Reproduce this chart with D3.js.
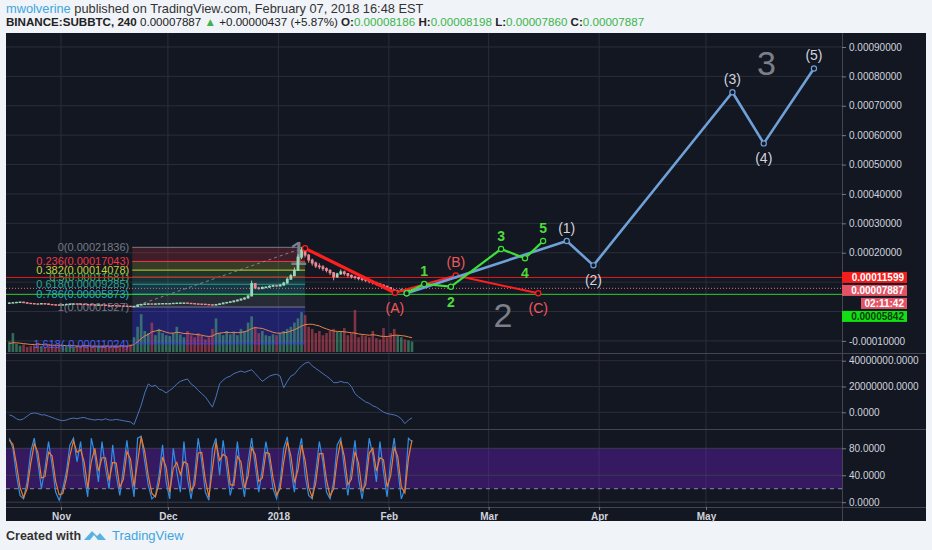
<!DOCTYPE html>
<html>
<head>
<meta charset="utf-8">
<script src="https://cdn.jsdelivr.net/npm/d3@7"></script>
<style>
body { margin: 0; background: #f0f3f8; }
svg { display: block; }
text { font-family: "Liberation Sans", Arial, sans-serif; }
</style>
</head>
<body>
<div id="chart"></div>
<script>
// Daily bars starting 2017-10-17, prices in units of 0.00001 BTC
var firstDay = "2017-10-17";

var closes = [
    2.9, 3.0, 3.1, 3.2, 3.0, 2.8, 2.7, 2.6, 2.55, 2.7, 2.6, 2.4, 2.3, 2.25, 2.2,
    2.3, 2.4, 2.5, 2.6, 2.55, 2.5, 2.4, 2.35, 2.3, 2.2, 2.25, 2.2, 2.1, 2.05, 2.0,
    1.95, 1.9, 1.85, 1.8, 1.7, 1.75, 2.2, 2.4, 2.55, 2.6, 2.5, 2.6, 2.65, 2.7, 2.7,
    2.7, 2.8, 2.85, 2.9, 2.9, 2.8, 2.7, 2.6, 2.55, 2.5, 2.4, 2.3, 2.2, 2.4, 2.6,
    2.9, 3.1, 3.3, 3.6, 3.9, 4.25, 4.6, 5.3, 9.5, 8.0, 7.8, 8.2, 8.3, 8.6, 8.8, 8.7,
    9.0, 9.7, 11.0, 12.2, 14.0, 18.5, 21.0, 19.2, 17.5, 16.5, 15.5, 15.2, 14.6, 14.0,
    13.2, 11.8, 12.8, 13.5, 12.9, 12.3, 11.8, 11.6, 11.2, 10.9, 10.6, 10.2, 9.8, 9.4,
    9.0, 8.6, 8.1,
    7.4, 6.6, 6.9, 7.3, 7.0, 7.5, 7.887
];
var highs = [
    3.1, 3.2, 3.3, 3.4, 3.3, 3.1, 2.9, 2.8, 2.7, 2.9, 2.8, 2.7, 2.5, 2.4, 2.4,
    2.4, 2.5, 2.6, 2.7, 2.7, 2.6, 2.55, 2.45, 2.4, 2.35, 2.35, 2.3, 2.25, 2.15, 2.1,
    2.05, 2.0, 1.95, 1.9, 1.85, 1.9, 2.4, 2.6, 2.7, 2.75, 2.7, 2.7, 2.8, 2.8, 2.85,
    2.8, 2.9, 3.0, 3.0, 3.0, 2.95, 2.8, 2.7, 2.65, 2.6, 2.5, 2.4, 2.35, 2.5, 2.7,
    3.0, 3.2, 3.4, 3.7, 4.0, 4.4, 4.8, 5.6, 10.5, 9.6, 8.4, 8.5, 8.6, 8.9, 9.1, 9.0,
    9.4, 10.1, 11.6, 12.8, 15.0, 19.5, 21.836, 21.2, 19.5, 18.0, 17.0, 16.4, 15.8, 15.0,
    14.4, 13.4, 13.2, 14.3, 13.9, 13.1, 12.6, 12.2, 11.9, 11.5, 11.2, 10.9, 10.5, 10.1,
    9.6, 9.2, 8.8,
    8.2, 7.6, 7.4, 7.8, 7.6, 7.9, 8.198
];
var lows = [
    2.7, 2.8, 2.9, 3.0, 2.9, 2.7, 2.6, 2.5, 2.4, 2.5, 2.4, 2.3, 2.2, 2.1, 2.1,
    2.15, 2.25, 2.35, 2.45, 2.45, 2.4, 2.3, 2.25, 2.2, 2.1, 2.1, 2.1, 2.0, 1.95, 1.9,
    1.85, 1.8, 1.75, 1.7, 1.6, 1.65, 1.7, 2.15, 2.35, 2.45, 2.4, 2.45, 2.5, 2.55, 2.6,
    2.6, 2.65, 2.75, 2.8, 2.8, 2.75, 2.65, 2.55, 2.45, 2.4, 2.3, 2.2, 2.1, 2.15, 2.35,
    2.55, 2.8, 3.0, 3.2, 3.5, 3.8, 4.1, 4.5, 5.2, 7.6, 7.4, 7.6, 7.9, 8.1, 8.4, 8.4,
    8.5, 8.8, 9.5, 10.8, 12.0, 13.8, 17.8, 18.4, 16.6, 15.6, 14.8, 14.4, 13.8, 13.3,
    12.4, 10.6, 11.4, 12.5, 12.2, 11.6, 11.2, 10.9, 10.6, 10.3, 10.0, 9.6, 9.2, 8.8,
    8.4, 8.0, 7.6,
    7.0, 6.0, 6.4, 6.8, 6.6, 6.8, 7.86
];

// volume, relative units 0-100
var volumes = [
    25, 45, 20, 15, 18, 12, 14, 16, 22, 14, 12, 18, 15, 13, 14,
    16, 14, 18, 12, 15, 13, 17, 14, 12, 15, 13, 14, 16, 12, 14,
    15, 13, 12, 14, 18, 35, 60, 90, 50, 45, 70, 40, 55, 45, 40,
    38, 45, 60, 42, 35, 50, 40, 35, 45, 38, 30, 35, 55, 80, 45,
    40, 50, 42, 48, 40, 55, 50, 70, 85, 60, 45, 50, 40, 38, 42, 40,
    45, 50, 55, 60, 70, 80, 95, 88, 60, 55, 45, 50, 40, 45,
    50, 55, 48, 50, 57, 40, 45, 100, 35, 40, 38, 35, 50, 33,
    30, 57, 35,
    45, 55, 40, 35, 30, 28, 25
];
var volumeMA = [
    20, 22, 22, 21, 20, 19, 18, 18, 19, 18, 17, 17, 16, 16, 16,
    16, 15, 15, 15, 14, 14, 15, 15, 14, 14, 14, 14, 14, 14, 14,
    14, 14, 14, 14, 15, 18, 24, 32, 38, 42, 48, 50, 52, 50, 47,
    45, 45, 47, 46, 44, 44, 43, 42, 41, 40, 38, 37, 38, 43, 45,
    46, 47, 46, 47, 46, 47, 48, 51, 56, 58, 57, 56, 53, 50, 47, 45,
    45, 46, 47, 50, 53, 57, 62, 65, 66, 66, 64, 62, 58, 55,
    52, 50, 49, 49, 48, 47, 46, 45, 43, 42, 41, 40, 41, 40,
    38, 37, 37,
    38, 40, 40, 39, 38, 36, 34
];

// on-balance volume, millions
var obv = [
    -2, -3, -5, -6, -5, -3, -1, -0.5, -1, -2, -2, -3, -4, -5, -6,
    -6.5, -6, -5, -4.5, -5, -4.3, -4, -5, -5.5, -6, -5.5, -6, -5, -6, -6,
    -5.5, -6, -6.5, -7, -7.5, -9.5, -2, 5.5, 15, 22, 20, 21, 18, 17, 15,
    17, 19, 22, 24, 25, 25.8, 22, 20, 17, 14.5, 12, 8, 4, 12, 22,
    25, 27, 28, 30, 31, 32, 31, 32, 33, 30, 27, 24, 26, 28, 29, 29.5,
    28, 19, 24, 28, 29.5, 33, 36, 38, 39, 36, 34, 32, 30, 28,
    26, 23, 23, 24, 23, 23, 20, 14.5, 12, 10, 8, 7, 5, 4,
    2, 0.2, -1,
    -1.5, -2, -3, -5, -8.8, -6, -4.3
];

// stochastic RSI
var stochK = [
    95, 80, 40, 10, 5, 30, 75, 95, 60, 20,
    50, 90, 55, 15, 3, 20, 45, 85, 95, 60,
    90, 40, 8, 95, 70, 30, 90, 50, 20, 85,
    40, 10, 50, 92, 45, 8, 95, 98, 60, 25,
    5, 10, 40, 85, 30, 5, 80, 45, 15, 90,
    35, 5, 40, 95, 60, 15, 3, 80, 95, 40,
    92, 50, 10, 35, 90, 40, 8, 60, 95, 55,
    15, 50, 90, 60, 20, 5, 30, 80, 97, 50,
    15, 70, 95, 40, 10, 5, 45, 90, 60, 15,
    5, 30, 85, 95, 50, 10, 50, 92, 35, 5,
    40, 95, 70, 30, 90, 45, 8, 60, 95, 50,
    5, 20, 95, 90
];
var stochD = [
    92, 86, 56, 22, 7, 20, 57, 87, 74, 36,
    38, 74, 69, 31, 11, 13, 35, 69, 91, 74,
    78, 60, 21, 60, 80, 46, 66, 66, 32, 59,
    58, 22, 34, 75, 64, 23, 60, 97, 75, 39,
    13, 8, 28, 67, 52, 15, 50, 59, 41, 60,
    57, 17, 26, 73, 74, 33, 8, 49, 89, 62,
    71, 67, 26, 25, 68, 60, 21, 39, 81, 71,
    31, 36, 74, 72, 36, 11, 20, 60, 90, 69,
    29, 48, 85, 62, 22, 7, 29, 72, 72, 33,
    9, 20, 63, 91, 68, 26, 34, 75, 58, 17,
    26, 73, 80, 46, 66, 63, 23, 39, 81, 68,
    23, 14, 65, 92
];

var monthTicks = ["2017-11-01T00:00", "2017-12-01T00:00", "2018-01-01T00:00", "2018-02-01T00:00",
    "2018-03-01T00:00", "2018-04-01T00:00", "2018-05-01T00:00"];
var monthLabels = ["Nov", "Dec", "2018", "Feb", "Mar", "Apr", "May"];

// price axis labels that are not covered by the price tags
var priceLabelTicks = [20, 30, 40, 50, 60, 70, 80, 90, -10];

// fibonacci retracement
var fibRatios = ["0", "0.236", "0.382", "0.5", "0.618", "0.786", "1", "1.618"];
var fibPrices = [21.836, 17.043, 14.078, 11.681, 9.285, 5.873, 1.527, -11.024];
var fibStart = "2017-11-21T00:00";
var fibEnd = "2018-01-08T12:00";

// elliott wave drawings
var redDates = ["2018-01-08T12:00", "2018-02-02T17:00", "2018-02-19T19:00", "2018-03-14T22:00"];
var redPrices = [21.5, 6.4, 12.25, 6.2];
var redLabels = ["", "(A)", "(B)", "(C)"];

var greenDates = ["2018-02-06T00:00", "2018-02-10T22:00", "2018-02-18T10:00", "2018-03-04T12:00",
    "2018-03-11T05:00", "2018-03-16T07:00"];
var greenPrices = [6.2, 9.36, 8.44, 21.27, 18.1, 24.0];
var greenLabels = ["", "1", "2", "3", "4", "5"];

var blueDates = ["2018-02-06T00:00", "2018-03-22T22:00", "2018-03-30T10:00", "2018-05-08T10:00",
    "2018-05-17T05:00", "2018-05-31T07:00"];
var bluePrices = [6.2, 24.0, 15.7, 74.6, 57.2, 82.7];
var blueLabels = ["", "(1)", "(2)", "(3)", "(4)", "(5)"];

var degreeDates = ["2018-01-06T14:00", "2018-03-05T00:00", "2018-05-18T00:00"];
var degreePrices = [15.8, -5.3, 80.5];
var degreeLabels = ["1", "2", "3"];

// horizontal lines and price tags
var resistance = 11.599;
var lastPrice = 7.887;
var support = 5.842;
var countdown = "02:11:42";

// ---------- layout ----------
var svgWidth = 932, svgHeight = 550;
var plotL = 6, plotR = 842, frameR = 926, frameT = 33, frameB = 521;
var mainTop = 33, mainBot = 353, obvTop = 354, obvBot = 429, stTop = 430, stBot = 507;
var gridColor = "#2a2e39";
var axisText = "#d1d4dc";

var parseTime = d3.utcParse("%Y-%m-%dT%H:%M");
var start = parseTime(firstDay + "T00:00");
var barTimes = closes.map((c, i) => d3.utcHour.offset(d3.utcDay.offset(start, i), 12));

var x = d3.scaleUtc()
    .domain([parseTime("2017-11-01T00:00"), parseTime("2018-05-01T00:00")])
    .range([61, 706]);
var y = d3.scaleLinear().domain([-10, 90]).range([340.9, 47]);
var yVol = d3.scaleLinear().domain([0, 100]).range([352, 310]);
var yObv = d3.scaleLinear().domain([0, 40]).range([412.3, 360.7]);
var ySt = d3.scaleLinear().domain([0, 80]).range([502.2, 448.3]);

var svg = d3.select("#chart").append("svg")
    .attr("width", svgWidth)
    .attr("height", svgHeight);

svg.append("rect").attr("width", svgWidth).attr("height", svgHeight).attr("fill", "#f0f3f8");

// header
var head1 = svg.append("text").attr("x", 6).attr("y", 13).attr("font-size", 12.8)
    .attr("font-family", "'Open Sans', sans-serif").attr("fill", "#333");
head1.append("tspan").attr("fill", "#3ea6df").text("mwolverine");
head1.append("tspan").text(" published on TradingView.com, February 07, 2018 16:48 EST");

var green = "#3bb54a";
var head2 = svg.append("text").attr("x", 6).attr("y", 26).attr("font-size", 11.6)
    .attr("font-family", "'Open Sans', sans-serif").attr("fill", "#222");
head2.append("tspan").attr("font-weight", "bold").text("BINANCE:SUBBTC, 240 ");
head2.append("tspan").text("0.00007887 ");
head2.append("tspan").attr("fill", green).text("\u25B2");
head2.append("tspan").text(" +0.00000437 (+5.87%) ");
[["O:", "0.00008186"], ["H:", "0.00008198"], ["L:", "0.00007860"], ["C:", "0.00007887"]]
    .forEach(function(p, i) {
        head2.append("tspan").attr("font-weight", "bold").text((i ? " " : "") + p[0]);
        head2.append("tspan").attr("fill", green).text(p[1]);
    });

// chart frame
svg.append("rect").attr("x", plotL).attr("y", frameT)
    .attr("width", frameR - plotL).attr("height", frameB - frameT)
    .attr("fill", "#131722");

var defs = svg.append("defs");
function clip(id, top, bot) {
    defs.append("clipPath").attr("id", id).append("rect")
        .attr("x", plotL).attr("y", top).attr("width", plotR - plotL).attr("height", bot - top);
    return svg.append("g").attr("clip-path", "url(#" + id + ")");
}

// vertical grid
var monthDates = monthTicks.map(parseTime);
svg.append("g").selectAll("line").data(monthDates).enter().append("line")
    .attr("x1", d => x(d)).attr("x2", d => x(d))
    .attr("y1", frameT).attr("y2", stBot)
    .attr("stroke", gridColor);

var mainG = clip("clipMain", mainTop, mainBot);
var obvG = clip("clipObv", obvTop, obvBot);
var stG = clip("clipSt", stTop, stBot);

// horizontal grid, main pane
var priceTicks = d3.range(-10, 91, 10);
mainG.selectAll(".hg").data(priceTicks).enter().append("line")
    .attr("x1", plotL).attr("x2", plotR)
    .attr("y1", d => y(d)).attr("y2", d => y(d))
    .attr("stroke", gridColor);

// fib zones
var fibColors = ["#787b86", "#f23645", "#c6d13a", "#4caf50", "#26a69a", "#1fb3c9", "#787b86", "#3a3aff"];
var fx0 = x(parseTime(fibStart)), fx1 = x(parseTime(fibEnd));
fibPrices.slice(0, -1).forEach(function(p, i) {
    var a = y(p), b = y(fibPrices[i + 1]);
    mainG.append("rect").attr("x", fx0).attr("width", fx1 - fx0)
        .attr("y", a).attr("height", b - a)
        .attr("fill", fibColors[i + 1]).attr("opacity", i === 6 ? 0.32 : 0.2);
});

// volume
mainG.selectAll(".vol").data(volumes).enter().append("rect")
    .attr("x", (d, i) => x(barTimes[i]) - 1.3)
    .attr("width", 2.6)
    .attr("y", d => yVol(d))
    .attr("height", d => 352 - yVol(d))
    .attr("fill", (d, i) => closes[i] >= (i ? closes[i - 1] : closes[0]) ? "#4aa37a" : "#c9465a")
    .attr("opacity", 0.6);
mainG.append("path").datum(volumeMA)
    .attr("fill", "none").attr("stroke", "#e8834a").attr("stroke-width", 1)
    .attr("d", d3.line().x((d, i) => x(barTimes[i])).y(d => yVol(d)));

// fib lines and labels
fibPrices.forEach(function(p, i) {
    mainG.append("line").attr("x1", fx0).attr("x2", fx1)
        .attr("y1", y(p)).attr("y2", y(p))
        .attr("stroke", fibColors[i]).attr("stroke-width", 1);
    mainG.append("text").attr("x", fx0 - 3).attr("y", y(p))
        .attr("dy", "0.35em").attr("text-anchor", "end")
        .attr("font-size", 11).attr("fill", fibColors[i] === "#3a3aff" ? "#4a5cff" : fibColors[i])
        .text(fibRatios[i] + "(" + (p * 1e-5).toFixed(8) + ")");
});
mainG.append("line")
    .attr("x1", fx0).attr("y1", y(fibPrices[6]))
    .attr("x2", fx1).attr("y2", y(fibPrices[0]))
    .attr("stroke", "#9598a1").attr("stroke-dasharray", "3,3").attr("opacity", 0.8);

// horizontal price lines
mainG.append("line").attr("x1", plotL).attr("x2", plotR)
    .attr("y1", y(resistance)).attr("y2", y(resistance)).attr("stroke", "#e01e1e");
mainG.append("line").attr("x1", plotL).attr("x2", plotR)
    .attr("y1", y(support)).attr("y2", y(support)).attr("stroke", "#33cc33");
mainG.append("line").attr("x1", plotL).attr("x2", plotR)
    .attr("y1", y(lastPrice)).attr("y2", y(lastPrice))
    .attr("stroke", "#e8687a").attr("stroke-dasharray", "1,2");

// big degree numbers
mainG.selectAll(".deg").data(degreeLabels).enter().append("text")
    .attr("x", (d, i) => x(parseTime(degreeDates[i])))
    .attr("y", (d, i) => y(degreePrices[i]))
    .attr("text-anchor", "middle").attr("font-size", 34)
    .attr("fill", "#7b7f8a")
    .text(d => d);

// candles
var upColor = "#9ad9b8", downColor = "#ef8a95";
var candle = mainG.selectAll(".candle").data(closes).enter().append("g");
candle.append("line")
    .attr("x1", (d, i) => x(barTimes[i])).attr("x2", (d, i) => x(barTimes[i]))
    .attr("y1", (d, i) => y(highs[i])).attr("y2", (d, i) => y(lows[i]))
    .attr("stroke", (d, i) => d >= (i ? closes[i - 1] : d) ? upColor : downColor);
candle.append("rect")
    .attr("x", (d, i) => x(barTimes[i]) - 1.4).attr("width", 2.8)
    .attr("y", (d, i) => y(Math.max(d, i ? closes[i - 1] : d)) - 0.5)
    .attr("height", (d, i) => Math.max(1.4, Math.abs(y(d) - y(i ? closes[i - 1] : d)) + 1))
    .attr("fill", (d, i) => d >= (i ? closes[i - 1] : d) ? upColor : downColor);

// wave drawings
function wave(dates, prices, labels, color, labelColor, widths, bold) {
    var pts = dates.map((d, i) => [x(parseTime(d)), y(prices[i])]);
    pts.slice(1).forEach(function(p, i) {
        mainG.append("line")
            .attr("x1", pts[i][0]).attr("y1", pts[i][1])
            .attr("x2", p[0]).attr("y2", p[1])
            .attr("stroke", color).attr("stroke-width", widths[i] || widths[0])
            .attr("stroke-linecap", "round");
    });
    mainG.selectAll(null).data(pts).enter().append("circle")
        .attr("cx", d => d[0]).attr("cy", d => d[1]).attr("r", 2.6)
        .attr("fill", "#131722").attr("stroke", color).attr("stroke-width", 1.2);
    labels.forEach(function(t, i) {
        if (!t) return;
        var up = prices[i] > prices[i - 1];
        mainG.append("text")
            .attr("x", pts[i][0]).attr("y", pts[i][1] + (up ? -13 : 15))
            .attr("dy", "0.35em").attr("text-anchor", "middle")
            .attr("font-size", 14).attr("font-weight", bold ? "bold" : "normal")
            .attr("fill", labelColor).text(t);
    });
}
wave(redDates, redPrices, redLabels, "#ff1f1f", "#f0585a", [3.2, 2, 2], false);
wave(blueDates, bluePrices, blueLabels, "#6fa0d8", "#d1d4dc", [2.6], false);
wave(greenDates, greenPrices, greenLabels, "#3ee03a", "#4ddb3c", [2.2], true);

// OBV pane
obvG.selectAll(".hg").data([0, 20, 40]).enter().append("line")
    .attr("x1", plotL).attr("x2", plotR)
    .attr("y1", d => yObv(d)).attr("y2", d => yObv(d))
    .attr("stroke", gridColor);
obvG.append("path").datum(obv)
    .attr("fill", "none").attr("stroke", "#4a73b8").attr("stroke-width", 1)
    .attr("d", d3.line().x((d, i) => x(barTimes[i])).y(d => yObv(d)));

// Stoch RSI pane
stG.append("rect").attr("x", plotL).attr("width", plotR - plotL)
    .attr("y", ySt(80)).attr("height", ySt(20) - ySt(80))
    .attr("fill", "#6a1fc0").attr("opacity", 0.4);
stG.selectAll(".hg").data([0, 40, 80]).enter().append("line")
    .attr("x1", plotL).attr("x2", plotR)
    .attr("y1", d => ySt(d)).attr("y2", d => ySt(d))
    .attr("stroke", "#3a3e4a");
stG.append("line").attr("x1", plotL).attr("x2", plotR)
    .attr("y1", ySt(20)).attr("y2", ySt(20))
    .attr("stroke", "#8a8e99").attr("stroke-dasharray", "4,4");
var stLine = d3.line().x((d, i) => x(barTimes[i])).y(d => ySt(d));
stG.append("path").datum(stochK)
    .attr("fill", "none").attr("stroke", "#2f8fe6").attr("stroke-width", 1.2).attr("d", stLine);
stG.append("path").datum(stochD)
    .attr("fill", "none").attr("stroke", "#f07a2a").attr("stroke-width", 1.2).attr("d", stLine);

// pane separators and right border
[mainBot + 0.5, obvBot + 0.5, stBot + 0.5].forEach(function(v) {
    svg.append("line").attr("x1", plotL).attr("x2", frameR).attr("y1", v).attr("y2", v)
        .attr("stroke", "#434651");
});
svg.append("line").attr("x1", plotR + 0.5).attr("x2", plotR + 0.5)
    .attr("y1", frameT).attr("y2", frameB).attr("stroke", "#434651");

// axes
function styleAxis(g) {
    g.select(".domain").remove();
    g.selectAll(".tick line").attr("stroke", "#787b86");
    g.selectAll(".tick text").attr("fill", axisText).attr("font-size", 10)
        .attr("font-family", "'Liberation Sans', Arial, sans-serif");
}
svg.append("g").attr("transform", "translate(" + plotR + ",0)")
    .call(d3.axisRight(y).tickValues(priceLabelTicks).tickSize(4).tickPadding(3)
        .tickFormat(d => (d * 1e-5).toFixed(8)))
    .call(styleAxis);
svg.append("g").attr("transform", "translate(" + plotR + ",0)")
    .call(d3.axisRight(yObv).tickValues([0, 20, 40]).tickSize(4).tickPadding(3)
        .tickFormat(d => (d * 1e6).toFixed(4)))
    .call(styleAxis);
svg.append("g").attr("transform", "translate(" + plotR + ",0)")
    .call(d3.axisRight(ySt).tickValues([0, 40, 80]).tickSize(4).tickPadding(3)
        .tickFormat(d => d.toFixed(4)))
    .call(styleAxis);
svg.append("g").attr("transform", "translate(0," + stBot + ")")
    .call(d3.axisBottom(x).tickValues(monthDates).tickSize(3).tickPadding(3)
        .tickFormat((d, i) => monthLabels[i]))
    .call(styleAxis)
    .selectAll(".tick text").attr("font-weight", "bold");

// price tags on the axis
var tagRows = [
    {text: (resistance * 1e-5).toFixed(8), bg: "#f21d1d", fg: "#fff", v: resistance, x0: plotR},
    {text: (lastPrice * 1e-5).toFixed(8), bg: "#e25465", fg: "#fff", v: lastPrice, x0: plotR},
    {text: countdown, bg: "#e25465", fg: "#fff", v: lastPrice, x0: plotR + 19},
    {text: (support * 1e-5).toFixed(8), bg: "#12e012", fg: "#0b3b0b", v: support, x0: plotR}
];
var lastY = -Infinity;
tagRows.forEach(function(t) {
    var ty = Math.max(y(t.v), lastY + 13);
    lastY = ty;
    svg.append("rect").attr("x", t.x0).attr("y", ty - 5.5)
        .attr("width", 907 - t.x0).attr("height", 11).attr("fill", t.bg);
    svg.append("text").attr("x", 904).attr("y", ty).attr("dy", "0.35em")
        .attr("text-anchor", "end").attr("font-size", 10).attr("font-weight", "bold")
        .attr("fill", t.fg).text(t.text);
});

// footer
svg.append("text").attr("x", 6).attr("y", 540).attr("font-size", 12.5)
    .attr("font-family", "'Open Sans', sans-serif").attr("font-weight", 600)
    .attr("fill", "#333").text("Created with");
svg.append("path")
    .attr("d", "M84,540 L92,531 L97,536 L100,533 L106,540 Z M90,540 L94,535 L98,540 Z")
    .attr("fill", "#58b3e3").attr("fill-rule", "evenodd");
svg.append("text").attr("x", 112).attr("y", 540).attr("font-size", 13)
    .attr("font-family", "'Open Sans', sans-serif")
    .attr("fill", "#3ea6df").text("TradingView");
</script>
</body>
</html>
